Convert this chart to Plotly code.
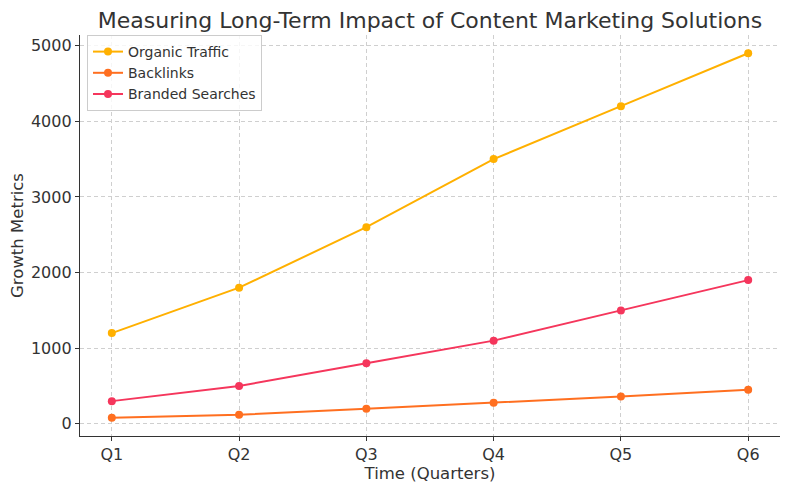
import plotly.graph_objs as go

quarters = ["Q1", "Q2", "Q3", "Q4", "Q5", "Q6"]
organic_traffic = [1200, 1800, 2600, 3500, 4200, 4900]
backlinks = [80, 120, 200, 280, 360, 450]
branded_searches = [300, 500, 800, 1100, 1500, 1900]

series = [
    ("Organic Traffic", organic_traffic, "#FFB000"),
    ("Backlinks", backlinks, "#FF6F20"),
    ("Branded Searches", branded_searches, "#F5365C"),
]

fig = go.Figure()
for name, values, color in series:
    fig.add_trace(
        go.Scatter(
            x=list(range(len(quarters))),
            y=values,
            name=name,
            mode="lines+markers",
            line=dict(color=color, width=2),
            marker=dict(color=color, size=8),
        )
    )

grid = dict(showgrid=True, gridcolor="#cfcfcf", griddash="4px,3px", gridwidth=0.8,
            zeroline=False, showline=True, linecolor="#333333", linewidth=1.3,
            ticks="outside", ticklen=4, tickcolor="#333333", automargin=False,
            tickfont=dict(size=16, color="#333333"))

# page body adds 8px offset, so figure is 8px smaller and margins shifted
fig.update_layout(
    width=782,
    height=482,
    margin=dict(l=72, r=10, t=27, b=54),
    paper_bgcolor="white",
    plot_bgcolor="white",
    font=dict(family="DejaVu Sans", color="#333333"),
    title=dict(text="Measuring Long-Term Impact of Content Marketing Solutions",
               x=0.5, xanchor="center", xref="paper", y=0.975, yanchor="middle",
               font=dict(size=22, color="#333333")),
    xaxis=dict(grid, tickmode="array", tickvals=list(range(len(quarters))),
               ticktext=quarters, range=[-0.25, 5.25],
               title=dict(text="Time (Quarters)", font=dict(size=16.5), standoff=2)),
    yaxis=dict(grid, range=[-161, 5141], dtick=1000,
               title=dict(text="Growth Metrics", font=dict(size=16.5), standoff=8)),
    legend=dict(x=0.01, y=1.0, xanchor="left", yanchor="top",
                bgcolor="rgba(255,255,255,0.8)", bordercolor="#cccccc", borderwidth=1,
                font=dict(size=14, color="#333333")),
)

fig.write_html("out.html")
